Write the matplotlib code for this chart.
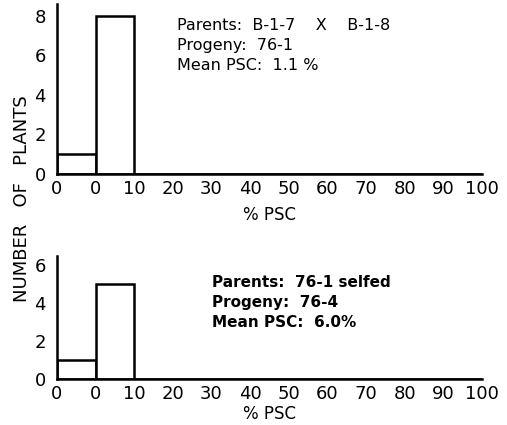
import numpy as np
import matplotlib
matplotlib.use("Agg")
import matplotlib.pyplot as plt

# PSC classes: first "0" is the zero class, then 0-10, 10-20, ... 90-100
tick_labels = ["0", "0", "10", "20", "30", "40", "50", "60", "70", "80", "90", "100"]

# Number of plants per class
counts_76_1 = [1, 8, 0, 0, 0, 0, 0, 0, 0, 0, 0]
counts_76_4 = [1, 5, 0, 0, 0, 0, 0, 0, 0, 0, 0]

info_76_1 = ["Parents:  B-1-7    X    B-1-8", "Progeny:  76-1", "Mean PSC:  1.1 %"]
info_76_4 = ["Parents:  76-1 selfed", "Progeny:  76-4", "Mean PSC:  6.0%"]

plt.rcParams["font.family"] = "DejaVu Sans"

fig = plt.figure(figsize=(5.07, 4.25), dpi=100)

ax_top = fig.add_axes([57 / 507, 1 - 174 / 425, (482 - 57) / 507, 170 / 425])
ax_bot = fig.add_axes([57 / 507, 1 - 379 / 425, (482 - 57) / 507, 123 / 425])


def draw_hist(ax, counts, yticks, ymax, info, info_pos, bold, info_size, xlabelpad):
    x = np.arange(len(counts))
    ax.bar(x, counts, width=1, align="edge", facecolor="white",
           edgecolor="black", linewidth=1.8)
    ax.set_xlim(0, len(counts))
    ax.set_ylim(0, ymax)
    ax.set_xticks(np.arange(len(tick_labels)))
    ax.set_xticklabels(tick_labels, fontsize=13)
    ax.set_yticks(yticks)
    ax.set_yticklabels([str(t) for t in yticks], fontsize=13)
    ax.tick_params(axis="y", length=0, pad=8)
    ax.tick_params(axis="x", length=0, pad=4)
    ax.spines["top"].set_visible(False)
    ax.spines["right"].set_visible(False)
    ax.spines["left"].set_linewidth(1.8)
    ax.spines["bottom"].set_linewidth(1.8)
    ax.set_xlabel("% PSC", fontsize=12, labelpad=xlabelpad)
    ax.text(info_pos[0], info_pos[1], "\n".join(info), transform=ax.transAxes,
            ha="left", va="top", fontsize=info_size,
            fontweight="bold" if bold else "normal", linespacing=1.42)


draw_hist(ax_top, counts_76_1, [0, 2, 4, 6, 8], 8.6, info_76_1,
          (0.282, 0.92), False, 11.5, 6)
draw_hist(ax_bot, counts_76_4, [0, 2, 4, 6], 6.47, info_76_4,
          (0.365, 0.845), True, 11, 2)

fig.text(0.044, 1 - 199 / 425, "NUMBER   OF   PLANTS", rotation=90,
         ha="center", va="center", fontsize=13)

fig.savefig("out.png", dpi=100)
plt.close(fig)
